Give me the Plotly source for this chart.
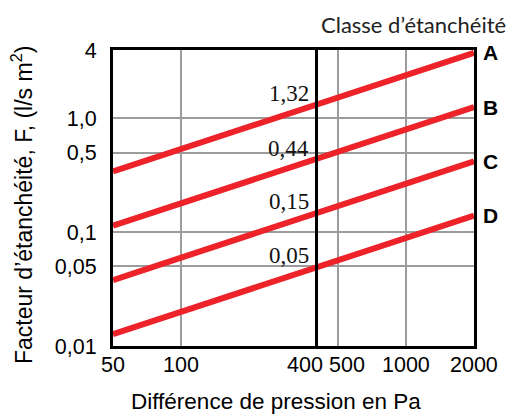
import math
import plotly.graph_objects as go

# Data
pressure = [50, 2000]                    # Pa
classes = ["A", "B", "C", "D"]
factor_A = [0.343, 3.77]
factor_B = [0.114, 1.26]
factor_C = [0.038, 0.42]
factor_D = [0.0127, 0.14]
ref_pressure = 400
ref_values = [1.32, 0.44, 0.15, 0.05]
ref_labels = ["1,32", "0,44", "0,15", "0,05"]

x_tickvals = [50, 100, 400, 500, 1000, 2000]
x_ticktext = ["50", "100", "400", "500", "1000", "2000"]
y_tickvals = [0.01, 0.05, 0.1, 0.5, 1.0, 4]
y_ticktext = ["0,01", "0,05", "0,1", "0,5", "1,0", "4"]

# horizontal nudges (px) of the x tick labels, as in the original drawing
x_label_nudge = [0, 0, -12, 9, 0, 0]

RED = "#EE2229"
series = [factor_A, factor_B, factor_C, factor_D]

fig = go.Figure()
for name, vals in zip(classes, series):
    fig.add_trace(go.Scatter(x=pressure, y=vals, mode="lines",
                             line=dict(color=RED, width=6), name=name,
                             showlegend=False, hoverinfo="skip", cliponaxis=False))

# vertical reference line at 400 Pa
fig.add_shape(type="line", xref="x", yref="paper", x0=ref_pressure, x1=ref_pressure,
              y0=0, y1=1, line=dict(color="black", width=3), layer="above")

# values at 400 Pa (annotations on log axes take log10 positions)
for v, t in zip(ref_values, ref_labels):
    fig.add_annotation(x=math.log10(ref_pressure), y=math.log10(v), xref="x", yref="y", text=t,
                       showarrow=False, xanchor="right", yanchor="middle",
                       xshift=-6, yshift=11,
                       font=dict(family="Liberation Serif", size=23, color="#111"))

# class letters at line ends
for name, vals in zip(classes, series):
    fig.add_annotation(x=1.0, y=math.log10(vals[-1]), xref="paper", yref="y",
                       text="<b>" + name + "</b>",
                       showarrow=False, xanchor="left", yanchor="middle", xshift=7, yshift=0,
                       font=dict(family="Liberation Sans", size=21, color="black"))

# x tick labels
for xv, xt, dx in zip(x_tickvals, x_ticktext, x_label_nudge):
    fig.add_annotation(x=math.log10(xv), y=0.0, xref="x", yref="paper", text=xt,
                       showarrow=False, xanchor="center", yanchor="middle",
                       xshift=dx, yshift=-19,
                       font=dict(family="Liberation Sans", size=21.5, color="black"))

fig.add_annotation(x=1.0, y=1.0, xref="paper", yref="paper", text="Classe d\u2019étanchéité",
                   showarrow=False, xanchor="right", yanchor="middle", xshift=34, yshift=26,
                   font=dict(family="Lato", size=22, color="#222"))

# axis titles
fig.add_annotation(x=0.5, y=0.0, xref="paper", yref="paper", text="Différence de pression en Pa",
                   showarrow=False, xanchor="center", yanchor="middle", xshift=-18, yshift=-55,
                   font=dict(family="Liberation Sans", size=22.5, color="black"))
fig.add_annotation(x=0.0, y=0.5, xref="paper", yref="paper",
                   text="Facteur d\u2019étanchéité, F, (l/s m<sup>2</sup>)", textangle=-90,
                   showarrow=False, xanchor="center", yanchor="middle", xshift=-91, yshift=-7,
                   font=dict(family="Liberation Sans", size=23, color="black"))

fig.update_xaxes(type="log", range=[math.log10(50), math.log10(2000)],
                 tickvals=x_tickvals, showticklabels=False,
                 showgrid=True, gridcolor="#9C9C9C", gridwidth=1.6,
                 showline=True, linecolor="black", linewidth=3, mirror=True,
                 ticks="", automargin=False, zeroline=False)
fig.update_yaxes(type="log", range=[-2, math.log10(4)], tickvals=y_tickvals, ticktext=y_ticktext,
                 showgrid=True, gridcolor="#9C9C9C", gridwidth=1.6,
                 showline=True, linecolor="black", linewidth=3, mirror=True,
                 ticks="", ticklabelstandoff=9, automargin=False,
                 tickfont=dict(family="Liberation Sans", size=21.5, color="black"),
                 zeroline=False)

fig.update_layout(width=515, height=414, margin=dict(l=113, r=41, t=50, b=68),
                  paper_bgcolor="white", plot_bgcolor="white")

fig.write_html("out.html", config={"displayModeBar": False},
               post_script="document.body.style.margin='0';")
